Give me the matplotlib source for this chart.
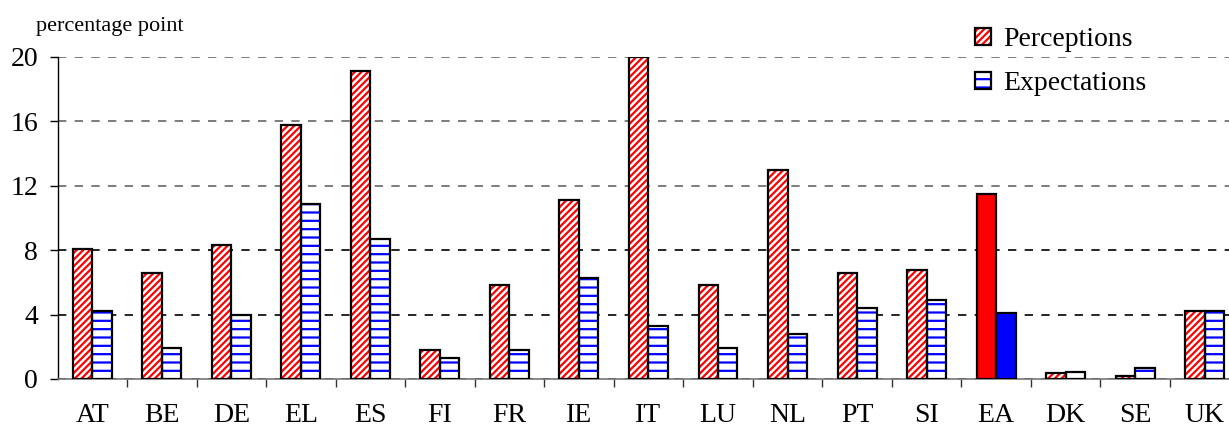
import numpy as np
import matplotlib.pyplot as plt
from matplotlib.patches import Patch

countries = ["AT", "BE", "DE", "EL", "ES", "FI", "FR", "IE", "IT", "LU",
             "NL", "PT", "SI", "EA", "DK", "SE", "UK"]
perceptions = [8.1, 6.6, 8.3, 15.8, 19.1, 1.8, 5.85, 11.1, 20.0, 5.85,
               13.0, 6.6, 6.8, 11.5, 0.35, 0.2, 4.25]
expectations = [4.2, 1.9, 4.0, 10.9, 8.7, 1.3, 1.8, 6.3, 3.3, 1.95,
                2.8, 4.4, 4.9, 4.1, 0.45, 0.7, 4.25]
yticks = [0, 4, 8, 12, 16, 20]

plt.rcParams['font.family'] = ['Liberation Serif', 'DejaVu Serif']
plt.rcParams['hatch.linewidth'] = 1.6

fig = plt.figure(figsize=(12.29, 4.28), dpi=100)
ax = fig.add_axes([57.5/1229, 1-379/428, 1-57.5/1229, (379-57)/428])

x = np.arange(len(countries))
w = 0.28
ea = countries.index("EA")
plain = [i for i in x if i != ea]

p = np.array(perceptions)
e = np.array(expectations)

# hatched bars (hatch drawn in colour, outline drawn separately in black)
ax.bar(x[plain] - w/2, p[plain], w, facecolor='white', edgecolor='red',
       hatch='/////', linewidth=0, zorder=3)
ax.bar(x[plain] + w/2, e[plain], w, facecolor='white', edgecolor='blue',
       hatch='--', linewidth=0, zorder=3)
ax.bar(x[plain] - w/2, p[plain], w, fill=False, edgecolor='black',
       linewidth=1.6, zorder=4)
ax.bar(x[plain] + w/2, e[plain], w, fill=False, edgecolor='black',
       linewidth=1.6, zorder=4)
# euro area solid
ax.bar(ea - w/2, p[ea], w, color='red', edgecolor='black', linewidth=1.6, zorder=4)
ax.bar(ea + w/2, e[ea], w, color='blue', edgecolor='black', linewidth=1.6, zorder=4)

ax.set_xlim(-0.5, 16.35)
ax.set_ylim(0, 20)
ax.set_yticks(yticks)
ax.set_xticks(x)
ax.set_xticklabels(countries, fontsize=20)
ax.set_xticks(np.arange(0.5, 16, 1), minor=True)
ax.tick_params(axis='x', which='major', length=0, pad=17)
ax.tick_params(axis='x', which='minor', length=6, width=1, color='#333', direction='out')
ax.tick_params(axis='y', labelsize=20, length=6, width=1, direction='out', pad=8)

for s in ['top', 'right']:
    ax.spines[s].set_visible(False)
ax.spines['bottom'].set_color('#777')
ax.spines['bottom'].set_linewidth(1.2)
ax.spines['left'].set_linewidth(1)

ax.yaxis.grid(True, linestyle=(0, (5, 5)), linewidth=1.2, zorder=0)
for val, gl in zip(yticks, ax.yaxis.get_gridlines()):
    gl.set_color('black' if val < 12 else '#666')
ax.set_axisbelow(True)

fig.text(36/1229, 1-26/428, "percentage point", fontsize=16, va='center', ha='left')

h1 = (Patch(facecolor='white', edgecolor='red', hatch='/////', linewidth=0),
      Patch(fill=False, edgecolor='black', linewidth=1.6))
h2 = (Patch(facecolor='white', edgecolor='blue', hatch='--', linewidth=0),
      Patch(fill=False, edgecolor='black', linewidth=1.6))
fig.legend([h1, h2], ["Perceptions", "Expectations"], loc='upper left',
           bbox_to_anchor=(975/1229, 1-27/428), frameon=False, fontsize=20,
           handlelength=0.58, handleheight=0.58, handletextpad=0.42,
           labelspacing=0.7, borderpad=0, borderaxespad=0)

fig.savefig("out.png", dpi=100)
